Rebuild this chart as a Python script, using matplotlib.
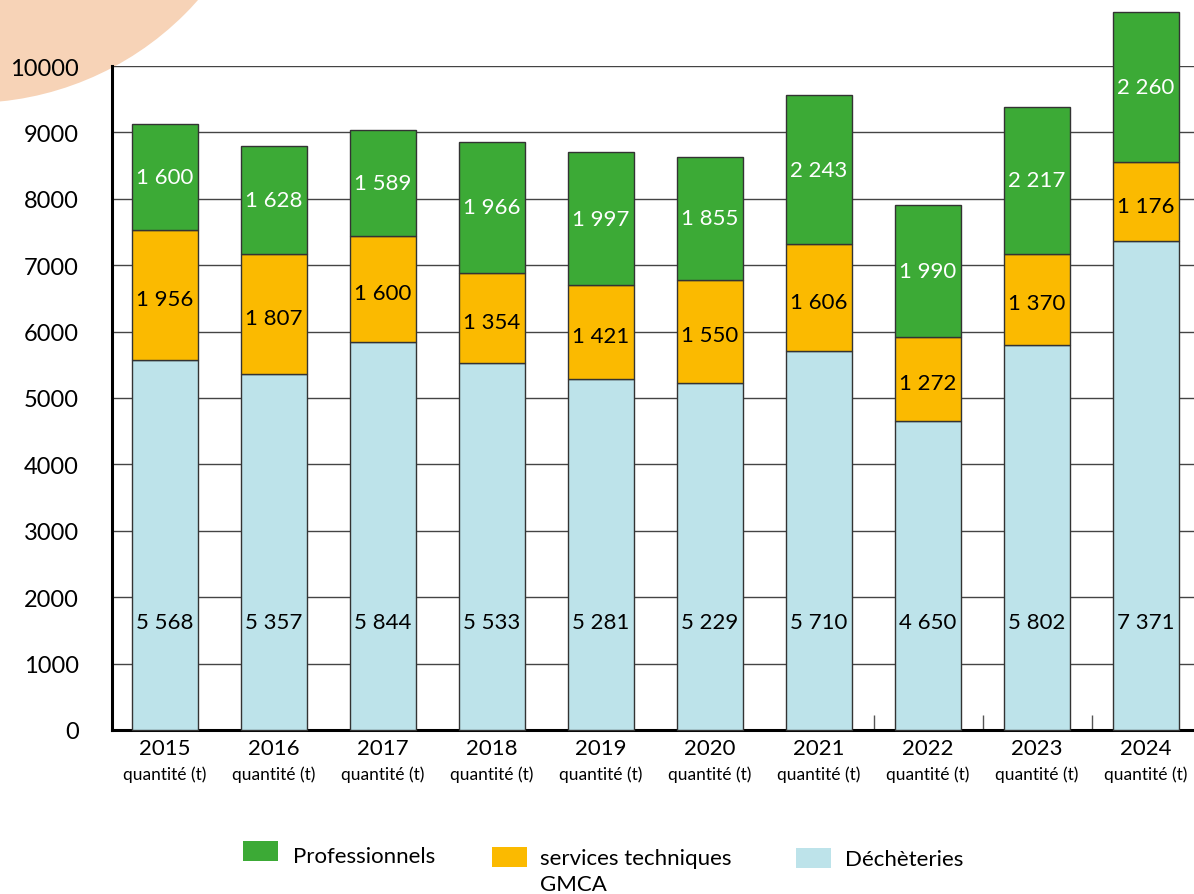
# Stacked bars: tonnages per year (Déchèteries / services techniques GMCA / Professionnels)
import numpy as np
import matplotlib.pyplot as plt
from matplotlib.patches import Ellipse, Rectangle

plt.rcParams['font.family'] = ['Lato', 'DejaVu Sans']

years = ["2015", "2016", "2017", "2018", "2019", "2020", "2021", "2022", "2023", "2024"]
decheteries = [5568, 5357, 5844, 5533, 5281, 5229, 5710, 4650, 5802, 7371]
services = [1956, 1807, 1600, 1354, 1421, 1550, 1606, 1272, 1370, 1176]
pros = [1600, 1628, 1589, 1966, 1997, 1855, 2243, 1990, 2217, 2260]
y_ticks = [0, 1000, 2000, 3000, 4000, 5000, 6000, 7000, 8000, 9000, 10000]
legend_labels = ["Professionnels", "services techniques\nGMCA", "Déchèteries"]

c_green = "#3caa36"
c_orange = "#fbba00"
c_blue = "#bde3ea"


def fmt(v):
    return "{:,}".format(v).replace(",", " ")


fig = plt.figure(figsize=(11.94, 8.95), dpi=100)
W, H = 1194., 895.

# peach disc in the top left corner (behind everything)
fig.patches.append(Ellipse((-30 / W, 1 + 200 / H), 2 * 304 / W, 2 * 304 / H,
                           transform=fig.transFigure, facecolor="#f7d3b7",
                           edgecolor="none", zorder=-5))

ax = fig.add_axes([112 / W, 1 - 731 / H, (W - 112) / W, (731 - 67) / H])
ax.patch.set_alpha(0)
ax.set_zorder(2)

x = np.arange(len(years))
d = np.array(decheteries)
s = np.array(services)
p = np.array(pros)
kw = dict(width=0.6, edgecolor="#333333", linewidth=1, clip_on=False, zorder=3)
ax.bar(x, d, color=c_blue, **kw)
ax.bar(x, s, bottom=d, color=c_orange, **kw)
ax.bar(x, p, bottom=d + s, color=c_green, **kw)

for i in x:
    ax.text(i, 1620, fmt(d[i]), ha="center", va="center", fontsize=16, color="black", zorder=4)
    ax.text(i, d[i] + s[i] / 2 - 60, fmt(s[i]), ha="center", va="center", fontsize=16,
            color="black", zorder=4)
    ax.text(i, d[i] + s[i] + p[i] / 2, fmt(p[i]), ha="center", va="center", fontsize=16,
            color="white", zorder=4, clip_on=False)

ax.set_xlim(-0.486, 9.44)
ax.set_ylim(0, 10000)
ax.set_yticks(y_ticks)
ax.set_yticklabels([str(v) for v in y_ticks], fontsize=17)
ax.tick_params(axis="y", length=0, pad=24)
ax.yaxis.grid(True, color="#444444", linewidth=1)
ax.set_axisbelow(True)

ax.set_xticks(x)
ax.set_xticklabels(years, fontsize=16)
ax.tick_params(axis="x", which="major", length=0, pad=6)
for i in x:
    ax.text(i, -0.066, "quantité (t)", transform=ax.get_xaxis_transform(),
            ha="center", va="center", fontsize=12.5)
ax.set_xticks([6.5, 7.5, 8.5], minor=True)
ax.tick_params(axis="x", which="minor", direction="in", length=11, width=1, color="#555555")

for side in ["top", "right"]:
    ax.spines[side].set_visible(False)
ax.spines["left"].set_linewidth(2.2)
ax.spines["bottom"].set_linewidth(2.2)

# legend drawn by hand
sq = [(243, 842, c_green), (492, 848, c_orange), (796, 849, c_blue)]
tx = [(293, 857), (540, 859), (845, 860)]
for (lx, ly, c), (tx_, ty), lab in zip(sq, tx, legend_labels):
    fig.patches.append(Rectangle((lx / W, 1 - (ly + 20) / H), 35 / W, 20 / H,
                                 transform=fig.transFigure, facecolor=c, edgecolor="none"))
    lines = lab.split("\n")
    for k, line in enumerate(lines):
        fig.text(tx_ / W, 1 - (ty + 26 * k) / H, line, ha="left", va="center", fontsize=16)

fig.savefig("out.png", dpi=100)
